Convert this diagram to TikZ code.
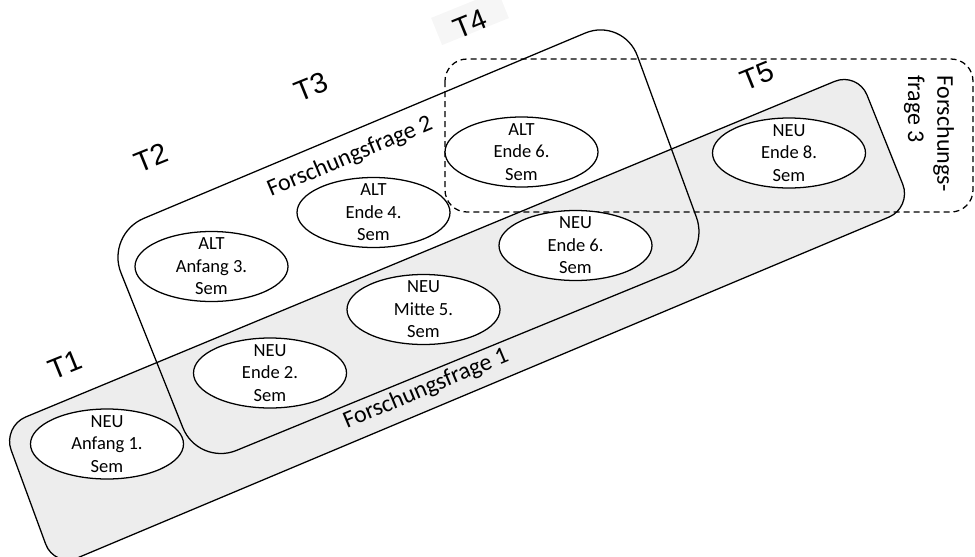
\documentclass[tikz,border=0pt]{standalone}
\usepackage{fontspec}
\setmainfont{Carlito}
\newfontfamily\tfont{Liberation Sans}
\usetikzlibrary{shapes.geometric}
\definecolor{boxgray}{HTML}{EDEDED}
\definecolor{patchgray}{HTML}{F6F6F6}
\tikzset{
  frame/.style={draw=black, line width=0.95pt},
  semell/.style={ellipse, draw=black, line width=0.95pt, fill=white, minimum width=114.75pt, minimum height=52.5pt, inner sep=0pt},
  semtxt/.style={align=center, font=\fontsize{13.9pt}{16.9pt}\selectfont, inner sep=0pt},
  tlabel/.style={font=\tfont\fontsize{21.5pt}{24pt}\selectfont, rotate=22, inner sep=0pt},
  fflabel/.style={font=\fontsize{18pt}{22pt}\selectfont, inner sep=0pt},
}
\begin{document}
\begin{tikzpicture}[x=0.75pt,y=-0.75pt]
\useasboundingbox (0,0) rectangle (975,557);
% light patch behind T4
\node[fill=patchgray, rotate=22, minimum width=54pt, minimum height=22pt, inner sep=0pt] (t4bg) at (470,18) {};
% Forschungsfrage 1 box
\draw[frame, fill=boxgray, rounded corners=18.75pt] (2.5,426.6) -- (857.7,71.8) -- (912,207.4) -- (54.3,567.6) -- cycle;
% Forschungsfrage 2 box
\draw[frame, rounded corners=31pt] (105.6,234.4) -- (623.2,17.1) -- (710.6,256) -- (198.2,466.1) -- cycle;
% Forschungsfrage 3 box
\draw[frame, dashed, dash pattern=on 4.5pt off 3pt, rounded corners=16.5pt] (445,59) rectangle (973,212);
% ellipses
\node[semell] (e1) at (107,444) {};
\node[semell] (e2) at (270,373) {};
\node[semell] (e3) at (211.5,266.5) {};
\node[semell] (e4) at (373.5,212.5) {};
\node[semell] (e5) at (423.5,309.5) {};
\node[semell] (e6) at (521.5,152) {};
\node[semell] (e7) at (575.5,245.5) {};
\node[semell] (e8) at (789,153) {};
\node[semtxt] (e1t) at (e1) {NEU\\Anfang 1.\\Sem};
\node[semtxt] (e2t) at (e2) {NEU\\Ende 2.\\Sem};
\node[semtxt] (e3t) at (e3) {ALT\\Anfang 3.\\Sem};
\node[semtxt] (e4t) at (e4) {ALT\\Ende 4.\\Sem};
\node[semtxt] (e5t) at (e5) {NEU\\Mitte 5.\\Sem};
\node[semtxt] (e6t) at (e6) {ALT\\Ende 6.\\Sem};
\node[semtxt] (e7t) at (e7) {NEU\\Ende 6.\\Sem};
\node[semtxt] (e8t) at (e8) {NEU\\Ende 8.\\Sem};
% T labels
\node[tlabel] (t1) at (65,365) {T1};
\node[tlabel] (t2) at (151,158) {T2};
\node[tlabel] (t3) at (311,87) {T3};
\node[tlabel] (t4) at (470,24) {T4};
\node[tlabel] (t5) at (757,76) {T5};
% research question labels
\node[fflabel, rotate=22.8] (ff2) at (350,157) {Forschungsfrage 2};
\node[fflabel, rotate=22.8] (ff1) at (426,389) {Forschungsfrage 1};
\node[fflabel, rotate=-90, align=left] (ff3) at (929,134) {Forschungs-\\frage 3};
\end{tikzpicture}
\end{document}
